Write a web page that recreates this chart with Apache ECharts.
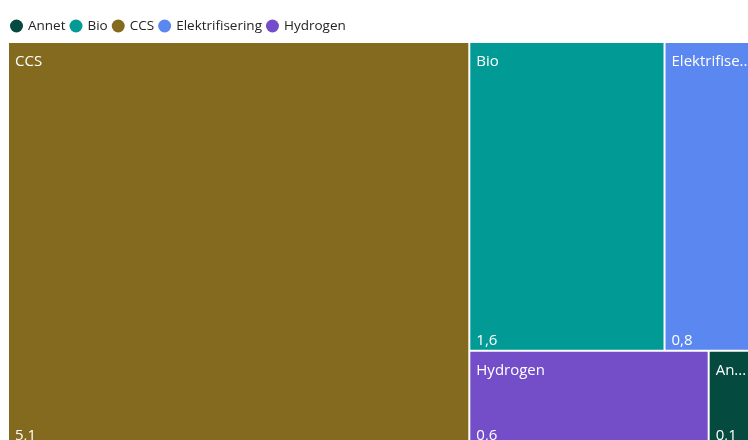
<!DOCTYPE html>
<html>
<head>
<meta charset="utf-8">
<script src="https://cdn.jsdelivr.net/npm/echarts@6/dist/echarts.min.js"></script>
<style>
  html, body { margin: 0; padding: 0; background: #fff; }
  #chart { width: 748px; height: 440px; }
</style>
</head>
<body>
<div id="chart"></div>
<script>
// kategorier i legend-rekkefølge
const categories = ['Annet', 'Bio', 'CCS', 'Elektrifisering', 'Hydrogen']
// verdier lest av bildet (vises avrundet til én desimal)
const values = [0.12, 1.64, 5.07, 0.76, 0.62]
const colors = ['#054A3F', '#019A94', '#846A1F', '#5B87F0', '#744EC9']

const fontFamily = '"Open Sans", "Noto Sans", sans-serif'

function fmt (v) {
    return v.toFixed(1).replace('.', ',')
}

const myChart = echarts.init(document.getElementById('chart'), null, { renderer: 'canvas' })

// felles plassering for begge treemap-lagene (navn øverst, verdi nederst)
const box = { left: 9, top: 43, width: 745, height: 402 }

let option = {
    animation: false,
    legend: {
        data: categories,
        left: 10,
        top: 19,
        padding: 0,
        icon: 'circle',
        itemWidth: 13,
        itemHeight: 13,
        itemGap: 4,
        textStyle: { fontSize: 13.5, color: '#252423', fontFamily: fontFamily }
    },
    series: [
        {
            // kun for legenden
            type: 'pie',
            radius: [0, 0],
            center: [-50, -50],
            silent: true,
            label: { show: false },
            labelLine: { show: false },
            data: categories.map(function (name, i) {
                return { name: name, value: values[i], itemStyle: { color: colors[i] } }
            })
        },
        Object.assign({
            type: 'treemap',
            name: 'navn',
            roam: false,
            nodeClick: false,
            breadcrumb: { show: false },
            itemStyle: { gapWidth: 2, borderWidth: 0, borderColor: '#fff' },
            label: {
                show: true,
                position: 'insideTopLeft',
                distance: 0,
                padding: [11, 0, 0, 6],
                color: '#fff',
                fontSize: 15,
                fontFamily: fontFamily,
                formatter: '{b}'
            },
            data: categories.map(function (name, i) {
                return { name: name, value: values[i], itemStyle: { color: colors[i] } }
            })
        }, box),
        Object.assign({
            type: 'treemap',
            name: 'verdi',
            roam: false,
            nodeClick: false,
            silent: true,
            breadcrumb: { show: false },
            itemStyle: { gapWidth: 2, borderWidth: 0 },
            label: {
                show: true,
                position: 'insideBottomLeft',
                distance: 0,
                padding: [0, 0, 2, 6],
                color: '#fff',
                fontSize: 15,
                fontFamily: fontFamily,
                formatter: function (p) {
                    return fmt(p.value)
                }
            },
            data: categories.map(function (name, i) {
                return { name: name, value: values[i], itemStyle: { color: 'rgba(0,0,0,0)' } }
            })
        }, box)
    ]
}
option && myChart.setOption(option)
</script>
</body>
</html>
